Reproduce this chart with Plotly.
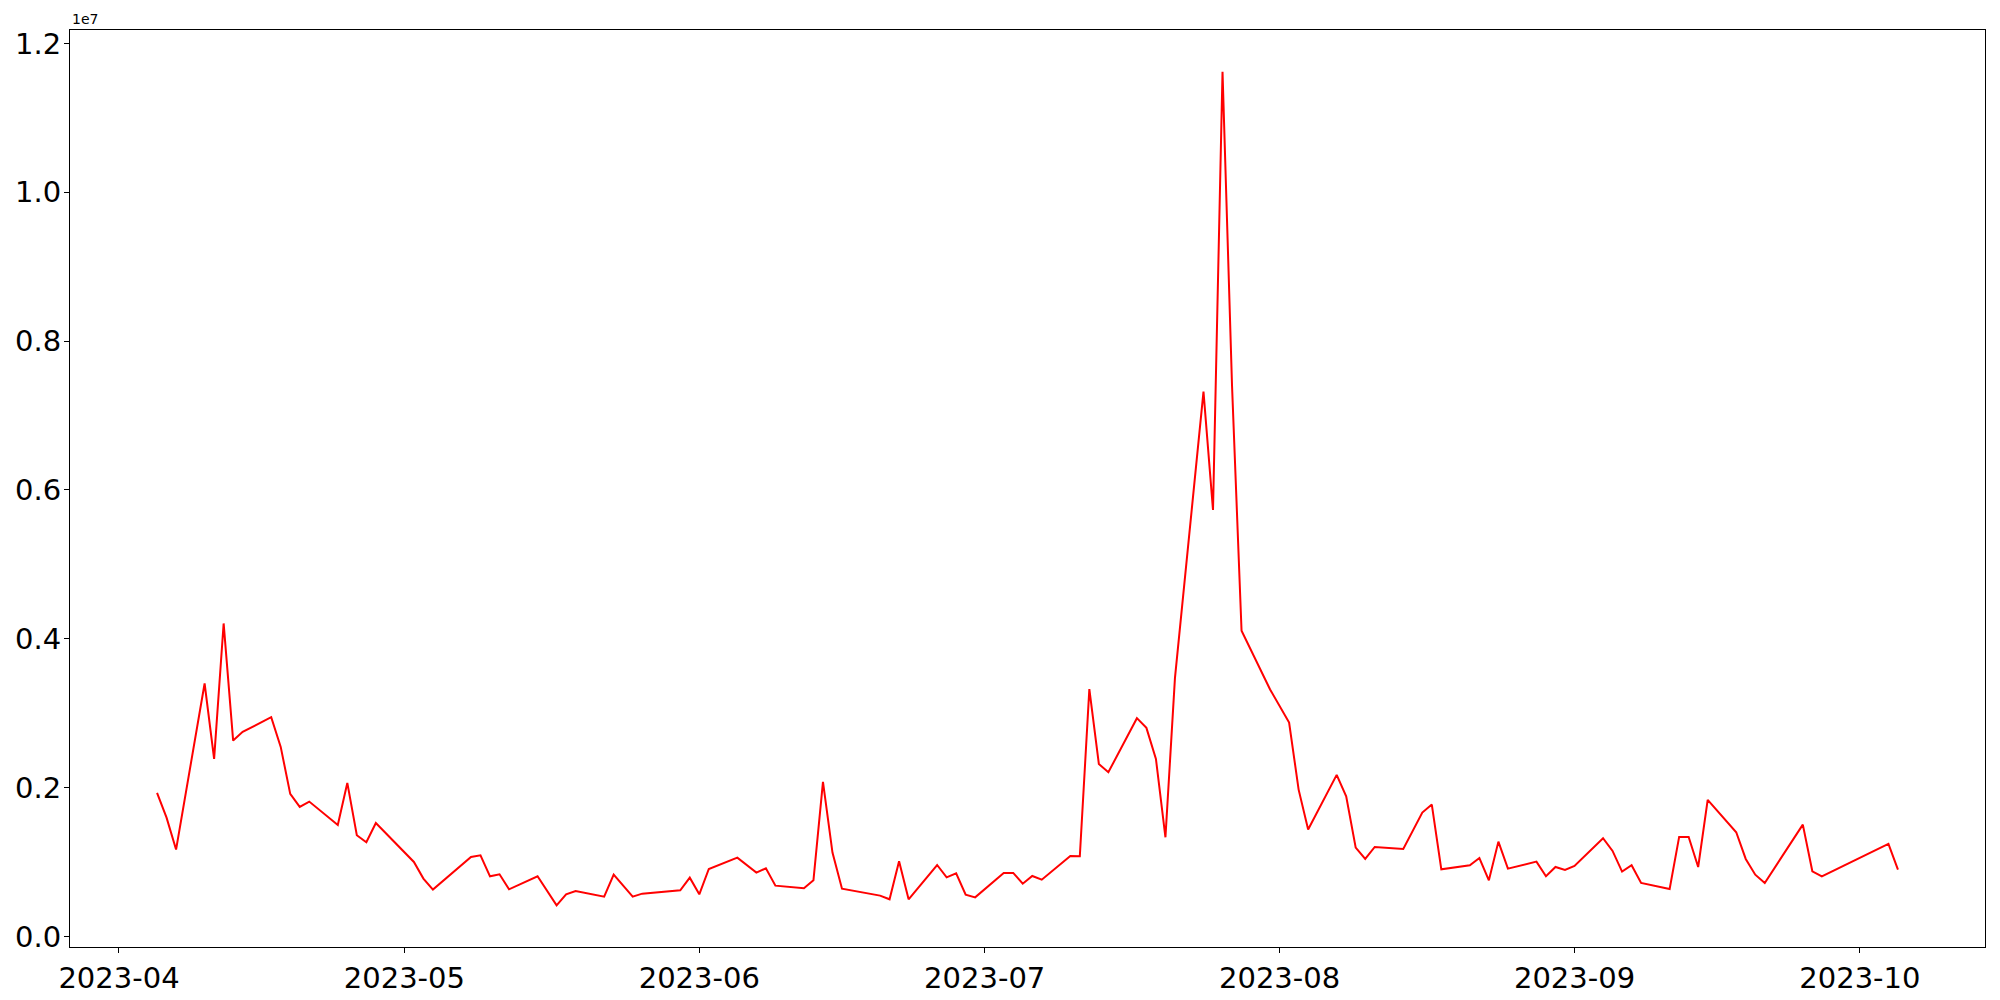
import pandas as pd
import plotly.graph_objects as go

dates = [
    "2023-04-05", "2023-04-06", "2023-04-07", "2023-04-10", "2023-04-11", "2023-04-12",
    "2023-04-13", "2023-04-14", "2023-04-17", "2023-04-18", "2023-04-19", "2023-04-20",
    "2023-04-21", "2023-04-24", "2023-04-25", "2023-04-26", "2023-04-27", "2023-04-28",
    "2023-05-02", "2023-05-03", "2023-05-04", "2023-05-08", "2023-05-09", "2023-05-10",
    "2023-05-11", "2023-05-12", "2023-05-15", "2023-05-17", "2023-05-18", "2023-05-19",
    "2023-05-22", "2023-05-23", "2023-05-25", "2023-05-26", "2023-05-30", "2023-05-31",
    "2023-06-01", "2023-06-02", "2023-06-05", "2023-06-07", "2023-06-08", "2023-06-09",
    "2023-06-12", "2023-06-13", "2023-06-14", "2023-06-15", "2023-06-16", "2023-06-20",
    "2023-06-21", "2023-06-22", "2023-06-23", "2023-06-26", "2023-06-27", "2023-06-28",
    "2023-06-29", "2023-06-30", "2023-07-03", "2023-07-04", "2023-07-05", "2023-07-06",
    "2023-07-07", "2023-07-10", "2023-07-11", "2023-07-12", "2023-07-13", "2023-07-14",
    "2023-07-17", "2023-07-18", "2023-07-19", "2023-07-20", "2023-07-21", "2023-07-24",
    "2023-07-25", "2023-07-26", "2023-07-27", "2023-07-28", "2023-07-31", "2023-08-02",
    "2023-08-03", "2023-08-04", "2023-08-07", "2023-08-08", "2023-08-09", "2023-08-10",
    "2023-08-11", "2023-08-14", "2023-08-16", "2023-08-17", "2023-08-18", "2023-08-21",
    "2023-08-22", "2023-08-23", "2023-08-24", "2023-08-25", "2023-08-28", "2023-08-29",
    "2023-08-30", "2023-08-31", "2023-09-01", "2023-09-04", "2023-09-05", "2023-09-06",
    "2023-09-07", "2023-09-08", "2023-09-11", "2023-09-12", "2023-09-13", "2023-09-14",
    "2023-09-15", "2023-09-18", "2023-09-19", "2023-09-20", "2023-09-21", "2023-09-25",
    "2023-09-26", "2023-09-27", "2023-10-04", "2023-10-05",
]

values = [
    1927000, 1596000, 1166000, 3398000, 2385000, 4205000,
    2631000, 2748000, 2945000, 2546000, 1914000, 1739000,
    1811000, 1497000, 2062000, 1358000, 1264000, 1524000,
    1000000, 776000, 628000, 1067000, 1089000, 807000,
    834000, 632000, 807000, 417000, 565000, 610000,
    533000, 829000, 533000, 574000, 619000, 789000,
    565000, 905000, 1058000, 856000, 914000, 681000,
    646000, 753000, 2076000, 1125000, 641000, 547000,
    498000, 1009000, 498000, 959000, 793000, 847000,
    560000, 524000, 852000, 852000, 708000, 811000,
    762000, 1080000, 1076000, 3322000, 2317000, 2205000,
    2932000, 2802000, 2385000, 1331000, 3470000, 7320000,
    5729000, 11620000, 7400000, 4106000, 3317000, 2873000,
    1972000, 1435000, 2170000, 1883000, 1193000, 1040000,
    1201000, 1174000, 1663000, 1771000, 901000, 955000,
    1053000, 753000, 1273000, 910000, 1004000, 807000,
    932000, 892000, 946000, 1318000, 1148000, 870000,
    955000, 717000, 637000, 1336000, 1336000, 932000,
    1834000, 1399000, 1040000, 829000, 717000, 1502000,
    874000, 807000, 1242000, 897000,
]

y_tick_vals = [0, 2000000, 4000000, 6000000, 8000000, 10000000, 12000000]
y_tick_text = ["0.0", "0.2", "0.4", "0.6", "0.8", "1.0", "1.2"]

x = pd.to_datetime(dates)
xspan = x.max() - x.min()
xr = [x.min() - 0.05 * xspan, x.max() + 0.05 * xspan]
ymin, ymax = min(values), max(values)
yspan = ymax - ymin
yr = [ymin - 0.05 * yspan, ymax + 0.05 * yspan]

fig = go.Figure()
fig.add_trace(go.Scatter(x=x, y=values, mode="lines",
                         line=dict(color="red", width=2), showlegend=False))

font = "DejaVu Sans"
# page body has an 8px default margin, so the figure is made 8px smaller
fig.update_layout(
    width=1992, height=992,
    margin=dict(l=62, r=15, t=22, b=53, autoexpand=False),
    paper_bgcolor="white", plot_bgcolor="white",
    font=dict(family=font, color="black"),
)
fig.update_xaxes(
    range=xr, type="date", automargin=False,
    tick0="2023-04-01", dtick="M1", tickformat="%Y-%m",
    ticks="outside", ticklen=5, tickwidth=1.1, tickcolor="black",
    tickfont=dict(size=29, family=font, color="black"),
    showline=True, linecolor="black", linewidth=1.1, mirror=True,
    showgrid=False, zeroline=False,
)
fig.update_yaxes(
    range=yr, tickvals=y_tick_vals, ticktext=y_tick_text, automargin=False,
    ticks="outside", ticklen=5, tickwidth=1.1, tickcolor="black",
    tickfont=dict(size=29, family=font, color="black"),
    ticklabelstandoff=-3,
    showline=True, linecolor="black", linewidth=1.1, mirror=True,
    showgrid=False, zeroline=False,
)
fig.add_annotation(text="1e7", xref="paper", yref="paper", x=0, y=1,
                   xanchor="left", yanchor="bottom", showarrow=False,
                   font=dict(size=14, family=font, color="black"), yshift=1)

fig.write_html("out.html")
